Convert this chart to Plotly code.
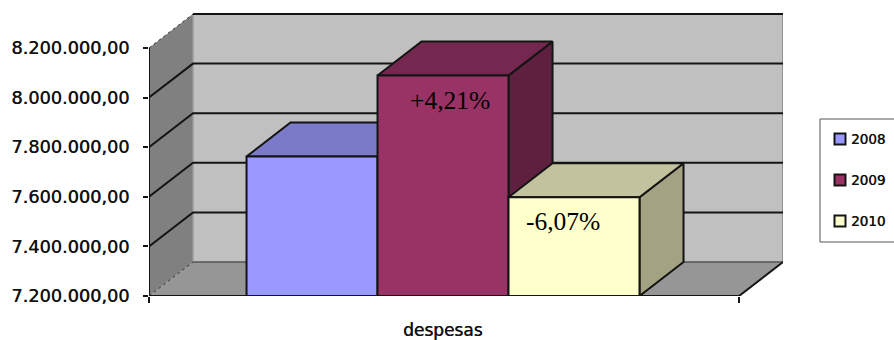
import plotly.graph_objects as go

# Series
years = ["2008", "2009", "2010"]
despesas = [7762500, 8089300, 7598000]
variation_labels = ["", "+4,21%", "-6,07%"]
front_colors = ["#9999FF", "#993366", "#FFFFCC"]
top_colors = ["#7A7AC8", "#75284F", "#C2C29E"]
side_colors = ["#5C5C9A", "#5F1F3E", "#A3A383"]
category_label = "despesas"

# Value axis
y_ticks = [7200000, 7400000, 7600000, 7800000, 8000000, 8200000]
y_tick_labels = ["7.200.000,00", "7.400.000,00", "7.600.000,00",
                 "7.800.000,00", "8.000.000,00", "8.200.000,00"]

# Oblique projection of the box, in axis units
DEPTH_X = 0.0746
DEPTH_Y = 137000
BAR_START = 0.1653
BAR_WIDTH = 0.2220
X_MAX = 1.0745
Y_MIN = y_ticks[0]
Y_MAX = 8345000

WALL = "#C0C0C0"
SIDE_WALL = "#808080"
FLOOR = "#969696"
INK = "#141414"
TEXT_SHADOW = "0.4px 0 0 #222222"

# Page and plot-area size in pixels
W, H = 894, 340
LEFT, RIGHT, TOP, BOTTOM = 149, 783, 12, 296


def px(x):
    return (x - LEFT) / (RIGHT - LEFT)


def py(y):
    return (BOTTOM - y) / (BOTTOM - TOP)


fig = go.Figure()


def poly(xs, ys, fill, line=None, width=2.0):
    fig.add_trace(go.Scatter(
        x=xs + xs[:1], y=ys + ys[:1], mode="lines", fill="toself", fillcolor=fill,
        line=dict(color=line or fill, width=width if line else 0),
        hoverinfo="skip", showlegend=False, cliponaxis=False))


def path(xs, ys, color=INK, width=2.0, dash="solid"):
    fig.add_trace(go.Scatter(
        x=xs, y=ys, mode="lines", line=dict(color=color, width=width, dash=dash),
        hoverinfo="skip", showlegend=False, cliponaxis=False))


# Walls and floor of the box
poly([DEPTH_X, 1 + DEPTH_X, 1 + DEPTH_X, DEPTH_X],
     [Y_MIN + DEPTH_Y, Y_MIN + DEPTH_Y, y_ticks[-1] + DEPTH_Y, y_ticks[-1] + DEPTH_Y], WALL)
poly([0, DEPTH_X, DEPTH_X, 0],
     [Y_MIN, Y_MIN + DEPTH_Y, y_ticks[-1] + DEPTH_Y, y_ticks[-1]], SIDE_WALL)
poly([0, DEPTH_X, 1 + DEPTH_X, 1],
     [Y_MIN, Y_MIN + DEPTH_Y, Y_MIN + DEPTH_Y, Y_MIN], FLOOR)

# Edges and gridlines wrapping from the side wall onto the back wall
path([DEPTH_X, DEPTH_X], [Y_MIN + DEPTH_Y, y_ticks[-1] + DEPTH_Y], "#9A9A9A", 1.5)
path([1 + DEPTH_X, 1 + DEPTH_X], [Y_MIN + DEPTH_Y, y_ticks[-1] + DEPTH_Y], "#8E8E8E", 2)
path([DEPTH_X, 1 + DEPTH_X], [Y_MIN + DEPTH_Y] * 2, "#555555", 1.5)
path([0, DEPTH_X], [Y_MIN, Y_MIN + DEPTH_Y], "#333333", 1, "dot")
path([0, DEPTH_X], [y_ticks[-1], y_ticks[-1] + DEPTH_Y], "#333333", 1, "dot")
path([DEPTH_X, 1 + DEPTH_X], [y_ticks[-1] + DEPTH_Y] * 2)
for tick in y_ticks[1:-1]:
    path([0, DEPTH_X, 1 + DEPTH_X], [tick, tick + DEPTH_Y, tick + DEPTH_Y])
path([1, 1 + DEPTH_X], [Y_MIN, Y_MIN + DEPTH_Y])
path([0, 0], [Y_MIN, y_ticks[-1]])

# Bars: side, top, then front face
for i, value in enumerate(despesas):
    x0 = BAR_START + i * BAR_WIDTH
    x1 = x0 + BAR_WIDTH
    poly([x1, x1 + DEPTH_X, x1 + DEPTH_X, x1],
         [Y_MIN, Y_MIN + DEPTH_Y, value + DEPTH_Y, value], side_colors[i], INK)
    poly([x0, x0 + DEPTH_X, x1 + DEPTH_X, x1],
         [value, value + DEPTH_Y, value + DEPTH_Y, value], top_colors[i], INK)
    poly([x0, x1, x1, x0], [Y_MIN, Y_MIN, value, value], front_colors[i], INK)

path([0, 1], [Y_MIN, Y_MIN])

annotations = []
label_shift = [(0, 0), (7, -25), (-11, -24)]
for i, text in enumerate(variation_labels):
    if text:
        annotations.append(dict(
            x=BAR_START + (i + 0.5) * BAR_WIDTH, y=despesas[i], xref="x", yref="y",
            text=text, showarrow=False, xshift=label_shift[i][0], yshift=label_shift[i][1],
            font=dict(family="Liberation Serif", size=25.5, color="#000000")))

annotations.append(dict(
    x=0.5, y=py(330), xref="x", yref="paper", yanchor="middle", xshift=-1,
    text=category_label, showarrow=False,
    font=dict(family="DejaVu Sans", size=17, color="#111111", shadow=TEXT_SHADOW)))

# Legend panel
shapes = [dict(type="rect", xref="paper", yref="paper",
               x0=px(820), x1=px(900), y0=py(242), y1=py(119),
               line=dict(color="#555555", width=1), fillcolor="white")]
for i, year in enumerate(years):
    cy = 139 + i * 41
    shapes.append(dict(type="rect", xref="paper", yref="paper",
                       x0=px(834.5), x1=px(845.5), y0=py(cy + 5.5), y1=py(cy - 5.5),
                       line=dict(color=INK, width=2), fillcolor=front_colors[i]))
    annotations.append(dict(x=px(849), y=py(cy), xref="paper", yref="paper",
                            xanchor="left", yanchor="middle", text=year, showarrow=False,
                            font=dict(family="DejaVu Sans", size=13.5, color="#111111",
                                      shadow=TEXT_SHADOW)))

fig.update_layout(
    width=W, height=H, margin=dict(l=LEFT, r=W - RIGHT, t=TOP, b=H - BOTTOM),
    paper_bgcolor="white", plot_bgcolor="white", showlegend=False,
    shapes=shapes, annotations=annotations,
    xaxis=dict(range=[0, X_MAX], tickvals=[0, 1], ticktext=["", ""], ticks="outside",
               ticklen=6, tickwidth=1.5, tickcolor=INK, showgrid=False, zeroline=False,
               showline=False),
    yaxis=dict(range=[Y_MIN, Y_MAX], tickvals=y_ticks, ticktext=y_tick_labels,
               ticks="outside", ticklen=5, tickwidth=1.5, tickcolor=INK, showgrid=False,
               zeroline=False, showline=False, ticklabelstandoff=10,
               tickfont=dict(family="DejaVu Sans", size=17.7, color="#111111",
                             shadow=TEXT_SHADOW)),
)

fig.write_html("out.html")
